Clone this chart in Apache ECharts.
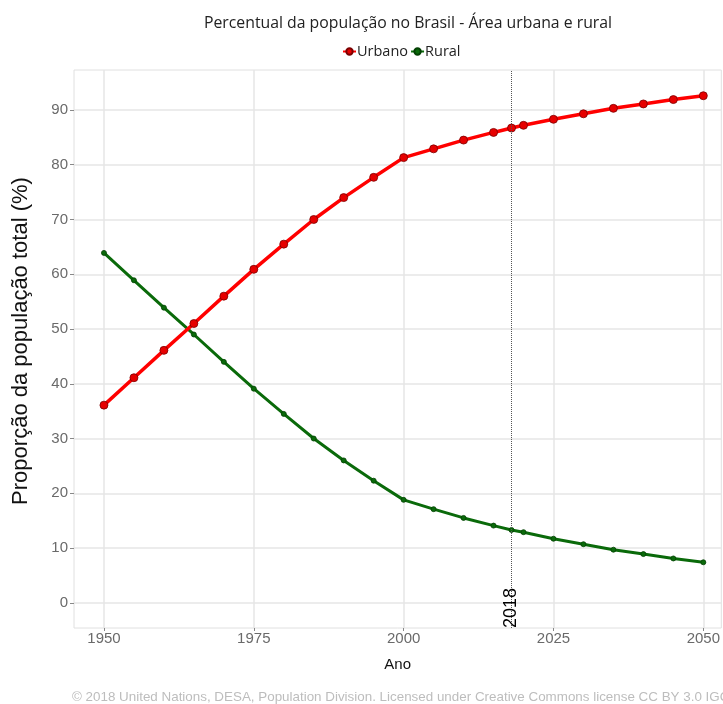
<!DOCTYPE html>
<html>
<head>
<meta charset="utf-8">
<script src="https://cdn.jsdelivr.net/npm/echarts@6/dist/echarts.min.js"></script>
<style>html,body{margin:0;padding:0;background:#fff}#c{width:723px;height:704px}</style>
</head>
<body>
<div id="c"></div>
<script>
var years = [1950,1955,1960,1965,1970,1975,1980,1985,1990,1995,2000,2005,2010,2015,2018,2020,2025,2030,2035,2040,2045,2050];
var urbano = [36.1,41.1,46.1,51.0,56.0,60.9,65.5,70.0,74.0,77.7,81.3,82.9,84.5,85.9,86.7,87.2,88.3,89.3,90.3,91.1,91.9,92.6];
var rural = [63.9,58.9,53.9,49.0,44.0,39.1,34.5,30.0,26.0,22.3,18.8,17.1,15.5,14.1,13.3,12.9,11.7,10.7,9.7,8.9,8.1,7.4];
var xTicks = [1950,1975,2000,2025,2050];
var yTicks = [0,10,20,30,40,50,60,70,80,90];
var markYear = 2018;

var chart = echarts.init(document.getElementById('c'), null, {renderer:'canvas'});
function pairs(v){ return years.map(function(y,i){ return [y, v[i]]; }); }
var option = {
  animation:false,
  backgroundColor:'#fff',
  title:{
    text:'Percentual da população no Brasil - Área urbana e rural',
    left:403, textAlign:'center', top:10,
    textStyle:{fontFamily:'Open Sans', fontSize:15.8, fontWeight:'normal', color:'#222'}
  },
  legend:{
    data:['Urbano','Rural'], top:39, left:337,
    itemWidth:13, itemHeight:8, itemGap:2,
    textStyle:{fontFamily:'Open Sans', fontSize:14.5, color:'#222', padding:[0,0,0,-4]}
  },
  grid:{left:74, right:0, top:70, bottom:76, show:true, borderColor:'#e0e0e0', borderWidth:1},
  xAxis:{
    type:'value', min:1945, max:2053,
    name:'Ano', nameLocation:'middle', nameGap:29,
    nameTextStyle:{fontFamily:'Liberation Sans', fontSize:15, color:'#111'},
    axisLine:{show:false, onZero:false},
    axisTick:{show:true, length:3, customValues:xTicks, lineStyle:{color:'#888'}},
    axisLabel:{customValues:xTicks, formatter:function(v){return String(v);}, fontFamily:'Liberation Sans', fontSize:15, color:'#6a6a6a', margin:3},
    splitLine:{show:true, lineStyle:{color:'#e6e6e6', width:1.5}}
  },
  yAxis:{
    type:'value', min:-4.6, max:97.3, splitNumber:10,
    name:'Proporção da população total (%)', nameLocation:'middle', nameGap:42,
    nameTextStyle:{fontFamily:'Liberation Sans', fontSize:22, color:'#111', padding:[0,0,0,16]},
    axisLine:{show:false},
    axisTick:{show:true, length:4, customValues:yTicks, lineStyle:{color:'#888'}},
    axisLabel:{customValues:yTicks, fontFamily:'Liberation Sans', fontSize:15, color:'#6a6a6a', margin:6},
    splitLine:{show:true, lineStyle:{color:'#e6e6e6', width:1.5}}
  },
  series:[
    {
      name:'Urbano', type:'line', data:pairs(urbano),
      symbol:'circle', symbolSize:8,
      lineStyle:{color:'#ff0000', width:3.5},
      itemStyle:{color:'#e60000', borderColor:'#7a0000', borderWidth:0.8},
      z:3,
      markLine:{
        silent:true, symbol:'none',
        lineStyle:{type:'dotted', color:'#555', width:1},
        label:{show:true, formatter:String(markYear), position:'insideStartTop', distance:0, verticalAlign:'middle',
          fontFamily:'Liberation Sans', fontSize:18, color:'#000'},
        data:[{xAxis:markYear}]
      }
    },
    {
      name:'Rural', type:'line', data:pairs(rural),
      symbol:'circle', symbolSize:5,
      lineStyle:{color:'#0a6a0a', width:3},
      itemStyle:{color:'#0a6a0a', borderColor:'#034003', borderWidth:0.8},
      z:2
    }
  ],
  graphic:[{
    type:'text', left:72, top:691,
    style:{text:'© 2018 United Nations, DESA, Population Division. Licensed under Creative Commons license CC BY 3.0 IGO',
      fontFamily:'Liberation Sans', fontSize:13.4, fill:'#bdbdbd'}
  }]
};
chart.setOption(option);
</script>
</body>
</html>
